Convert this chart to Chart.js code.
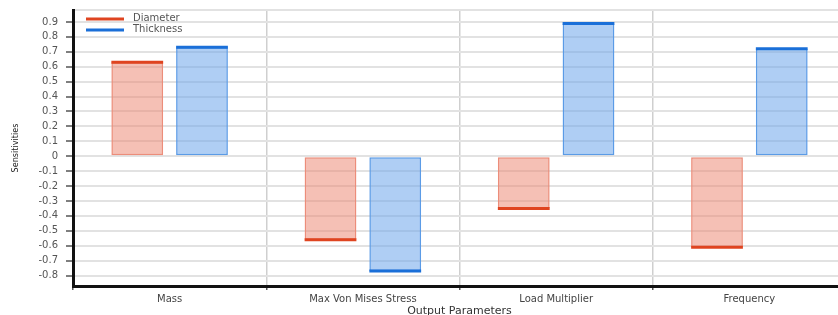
<!DOCTYPE html>
<html>
<head>
<meta charset="utf-8">
<script src="https://cdn.jsdelivr.net/npm/chart.js@4.4.0/dist/chart.umd.min.js"></script>
<style>
  html, body { margin: 0; padding: 0; background: #fff; overflow: hidden; }
  #wrap { width: 850px; height: 315px; position: relative; }
</style>
</head>
<body>
<div id="wrap"><canvas id="chart"></canvas></div>
<script>
// Dados
const categorias = ['Mass', 'Max Von Mises Stress', 'Load Multiplier', 'Frequency'];
const diametro = [0.63, -0.56, -0.35, -0.61];
const espessura = [0.73, -0.77, 0.89, 0.72];
const ticksY = [-0.8, -0.7, -0.6, -0.5, -0.4, -0.3, -0.2, -0.1, 0, 0.1, 0.2, 0.3, 0.4, 0.5, 0.6, 0.7, 0.8, 0.9];
const yMin = -0.87;
const yMax = 0.98;

// Cores
const corDiam = { fill: 'rgba(236,130,108,0.5)', borda: '#ec8d7a', topo: '#df4420' };
const corEsp = { fill: 'rgba(110,165,235,0.55)', borda: '#5b9be6', topo: '#1a6fd8' };

const fonte = 'DejaVu Sans';

// Linha escura na ponta de cada barra
const pontaBarra = {
  id: 'pontaBarra',
  afterDatasetsDraw(chart) {
    const ctx = chart.ctx;
    chart.data.datasets.forEach((ds, i) => {
      const meta = chart.getDatasetMeta(i);
      meta.data.forEach(bar => {
        const { x, y, width } = bar.getProps(['x', 'y', 'width'], true);
        ctx.save();
        ctx.strokeStyle = ds.corTopo;
        ctx.lineWidth = 3;
        ctx.beginPath();
        ctx.moveTo(x - width / 2, y);
        ctx.lineTo(x + width / 2, y);
        ctx.stroke();
        ctx.restore();
      });
    });
  }
};

// Legenda dentro da área do gráfico
const legendaInterna = {
  id: 'legendaInterna',
  afterDraw(chart) {
    const ctx = chart.ctx;
    const area = chart.chartArea;
    chart.data.datasets.forEach((ds, i) => {
      const yy = area.top + 9 + i * 11;
      ctx.save();
      ctx.strokeStyle = ds.corTopo;
      ctx.lineWidth = 3;
      ctx.beginPath();
      ctx.moveTo(area.left + 13, yy);
      ctx.lineTo(area.left + 51, yy);
      ctx.stroke();
      ctx.fillStyle = '#555';
      ctx.font = '10px ' + fonte;
      ctx.textBaseline = 'middle';
      ctx.fillText(ds.label, area.left + 60, yy - 1);
      ctx.restore();
    });
  }
};

const ctx = document.getElementById('chart').getContext('2d');
new Chart(ctx, {
  type: 'bar',
  data: {
    labels: categorias,
    datasets: [
      {
        label: 'Diameter',
        data: diametro,
        backgroundColor: corDiam.fill,
        borderColor: corDiam.borda,
        borderWidth: 1.5,
        borderSkipped: false,
        corTopo: corDiam.topo
      },
      {
        label: 'Thickness',
        data: espessura,
        backgroundColor: corEsp.fill,
        borderColor: corEsp.borda,
        borderWidth: 1.5,
        borderSkipped: false,
        corTopo: corEsp.topo
      }
    ]
  },
  options: {
    responsive: true,
    maintainAspectRatio: false,
    animation: false,
    categoryPercentage: 0.67,
    barPercentage: 0.8,
    layout: { padding: { left: 0, top: 10, right: 4, bottom: 0 } },
    plugins: {
      legend: { display: false },
      tooltip: { enabled: false }
    },
    scales: {
      x: {
        offset: true,
        grid: {
          offset: true,
          color: '#cfcfcf',
          lineWidth: 1.5,
          tickLength: 4,
          tickColor: '#555'
        },
        border: { color: '#111', width: 3 },
        ticks: {
          color: '#444',
          font: { family: fonte, size: 10 },
          padding: 3,
          maxRotation: 0
        },
        title: {
          display: true,
          text: 'Output Parameters',
          color: '#333',
          font: { family: fonte, size: 11 },
          padding: { top: 0, bottom: -3 }
        },
        afterFit: s => { s.height = 29; }
      },
      y: {
        min: yMin,
        max: yMax,
        afterBuildTicks: s => {
          s.ticks = ticksY.map(v => ({ value: v })).concat([{ value: yMax }]);
        },
        grid: {
          color: '#e2e2e2',
          lineWidth: 2,
          tickLength: 7,
          tickColor: c => (c.tick && c.tick.value === yMax) ? 'rgba(0,0,0,0)' : '#555',
          tickWidth: 1.5
        },
        border: { color: '#111', width: 3 },
        ticks: {
          color: '#555',
          font: { family: fonte, size: 10 },
          padding: 8,
          callback: v => {
            if (v === yMax) return '';
            const r = Math.round(v * 10) / 10;
            return r === 0 ? '0' : r.toFixed(1);
          }
        },
        title: {
          display: true,
          text: 'Sensitivities',
          color: '#222',
          font: { family: 'DejaVu Sans Condensed', size: 9 },
          padding: { top: 10, bottom: 0 }
        },
        afterFit: s => {
          s.width = 73;
          s.paddingTop = 6;
          s.paddingBottom = 6;
        }
      }
    }
  },
  plugins: [pontaBarra, legendaInterna]
});
</script>
</body>
</html>
